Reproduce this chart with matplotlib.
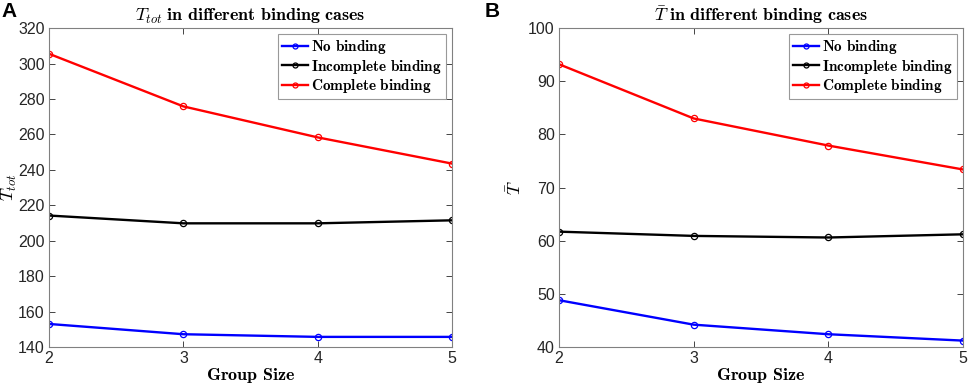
import numpy as np
import matplotlib
matplotlib.use("Agg")
import matplotlib.pyplot as plt

plt.rcParams['mathtext.fontset'] = 'cm'
plt.rcParams['font.family'] = ['Liberation Sans', 'DejaVu Sans']

group_size = [2, 3, 4, 5]

# panel A: T_tot
a_none = [153.0, 147.2, 145.7, 145.7]
a_incomplete = [214.2, 209.8, 209.8, 211.5]
a_complete = [305.5, 275.8, 258.3, 243.5]

# panel B: mean T
b_none = [48.8, 44.2, 42.4, 41.2]
b_incomplete = [61.7, 60.9, 60.6, 61.2]
b_complete = [93.2, 83.0, 77.9, 73.4]

labels = [r"$\mathbf{No\ binding}$", r"$\mathbf{Incomplete\ binding}$",
          r"$\mathbf{Complete\ binding}$"]
colors = ['#0000ff', '#000000', '#ff0000']

fig = plt.figure(figsize=(9.69, 3.87), dpi=100)
axA = fig.add_axes([0.0506, 0.1034, 0.416, 0.824])
axB = fig.add_axes([0.5769, 0.1034, 0.4169, 0.824])


def draw(ax, series, ylim, yticks, title, ylabel, letter, lx, ylx):
    for vals, c, lab in zip(series, colors, labels):
        ax.plot(group_size, vals, color=c, lw=1.7, marker='o', ms=4.5,
                mfc='none', mew=0.9, label=lab)
    ax.set_xlim(2, 5)
    ax.set_ylim(*ylim)
    ax.set_xticks(group_size)
    ax.set_yticks(yticks)
    ax.tick_params(direction='in', top=True, right=True, labelsize=11.5,
                   colors='#262626', length=4, width=0.6, pad=3)
    for s in ax.spines.values():
        s.set_color('#808080')
        s.set_linewidth(0.8)
    ax.set_title(title, fontsize=13, pad=5)
    ax.set_xlabel(r"$\mathbf{Group\ Size}$", fontsize=13, labelpad=0)
    ax.set_ylabel(ylabel, fontsize=13)
    ax.yaxis.set_label_coords(ylx, 0.5)
    leg = ax.legend(loc='upper right', fontsize=11, frameon=True, fancybox=False,
                    edgecolor='#808080', handlelength=1.7, handletextpad=0.2,
                    borderpad=0.25, labelspacing=0.1, borderaxespad=0.4,
                    markerscale=0.8)
    leg.get_frame().set_linewidth(0.8)
    fig.text(lx, 0.995, letter, fontsize=15, fontweight='bold',
             ha='left', va='top')


draw(axA, [a_none, a_incomplete, a_complete], (140, 320),
     np.arange(140, 321, 20),
     r"$T_{tot}$ $\mathbf{in\ different\ binding\ cases}$", r"$T_{tot}$", 'A',
     0.002, -0.075)
draw(axB, [b_none, b_incomplete, b_complete], (40, 100),
     np.arange(40, 101, 10),
     r"$\bar{T}$ $\mathbf{in\ different\ binding\ cases}$", r"$\bar{T}$", 'B',
     0.5, -0.085)

fig.savefig('out.png', dpi=100)
